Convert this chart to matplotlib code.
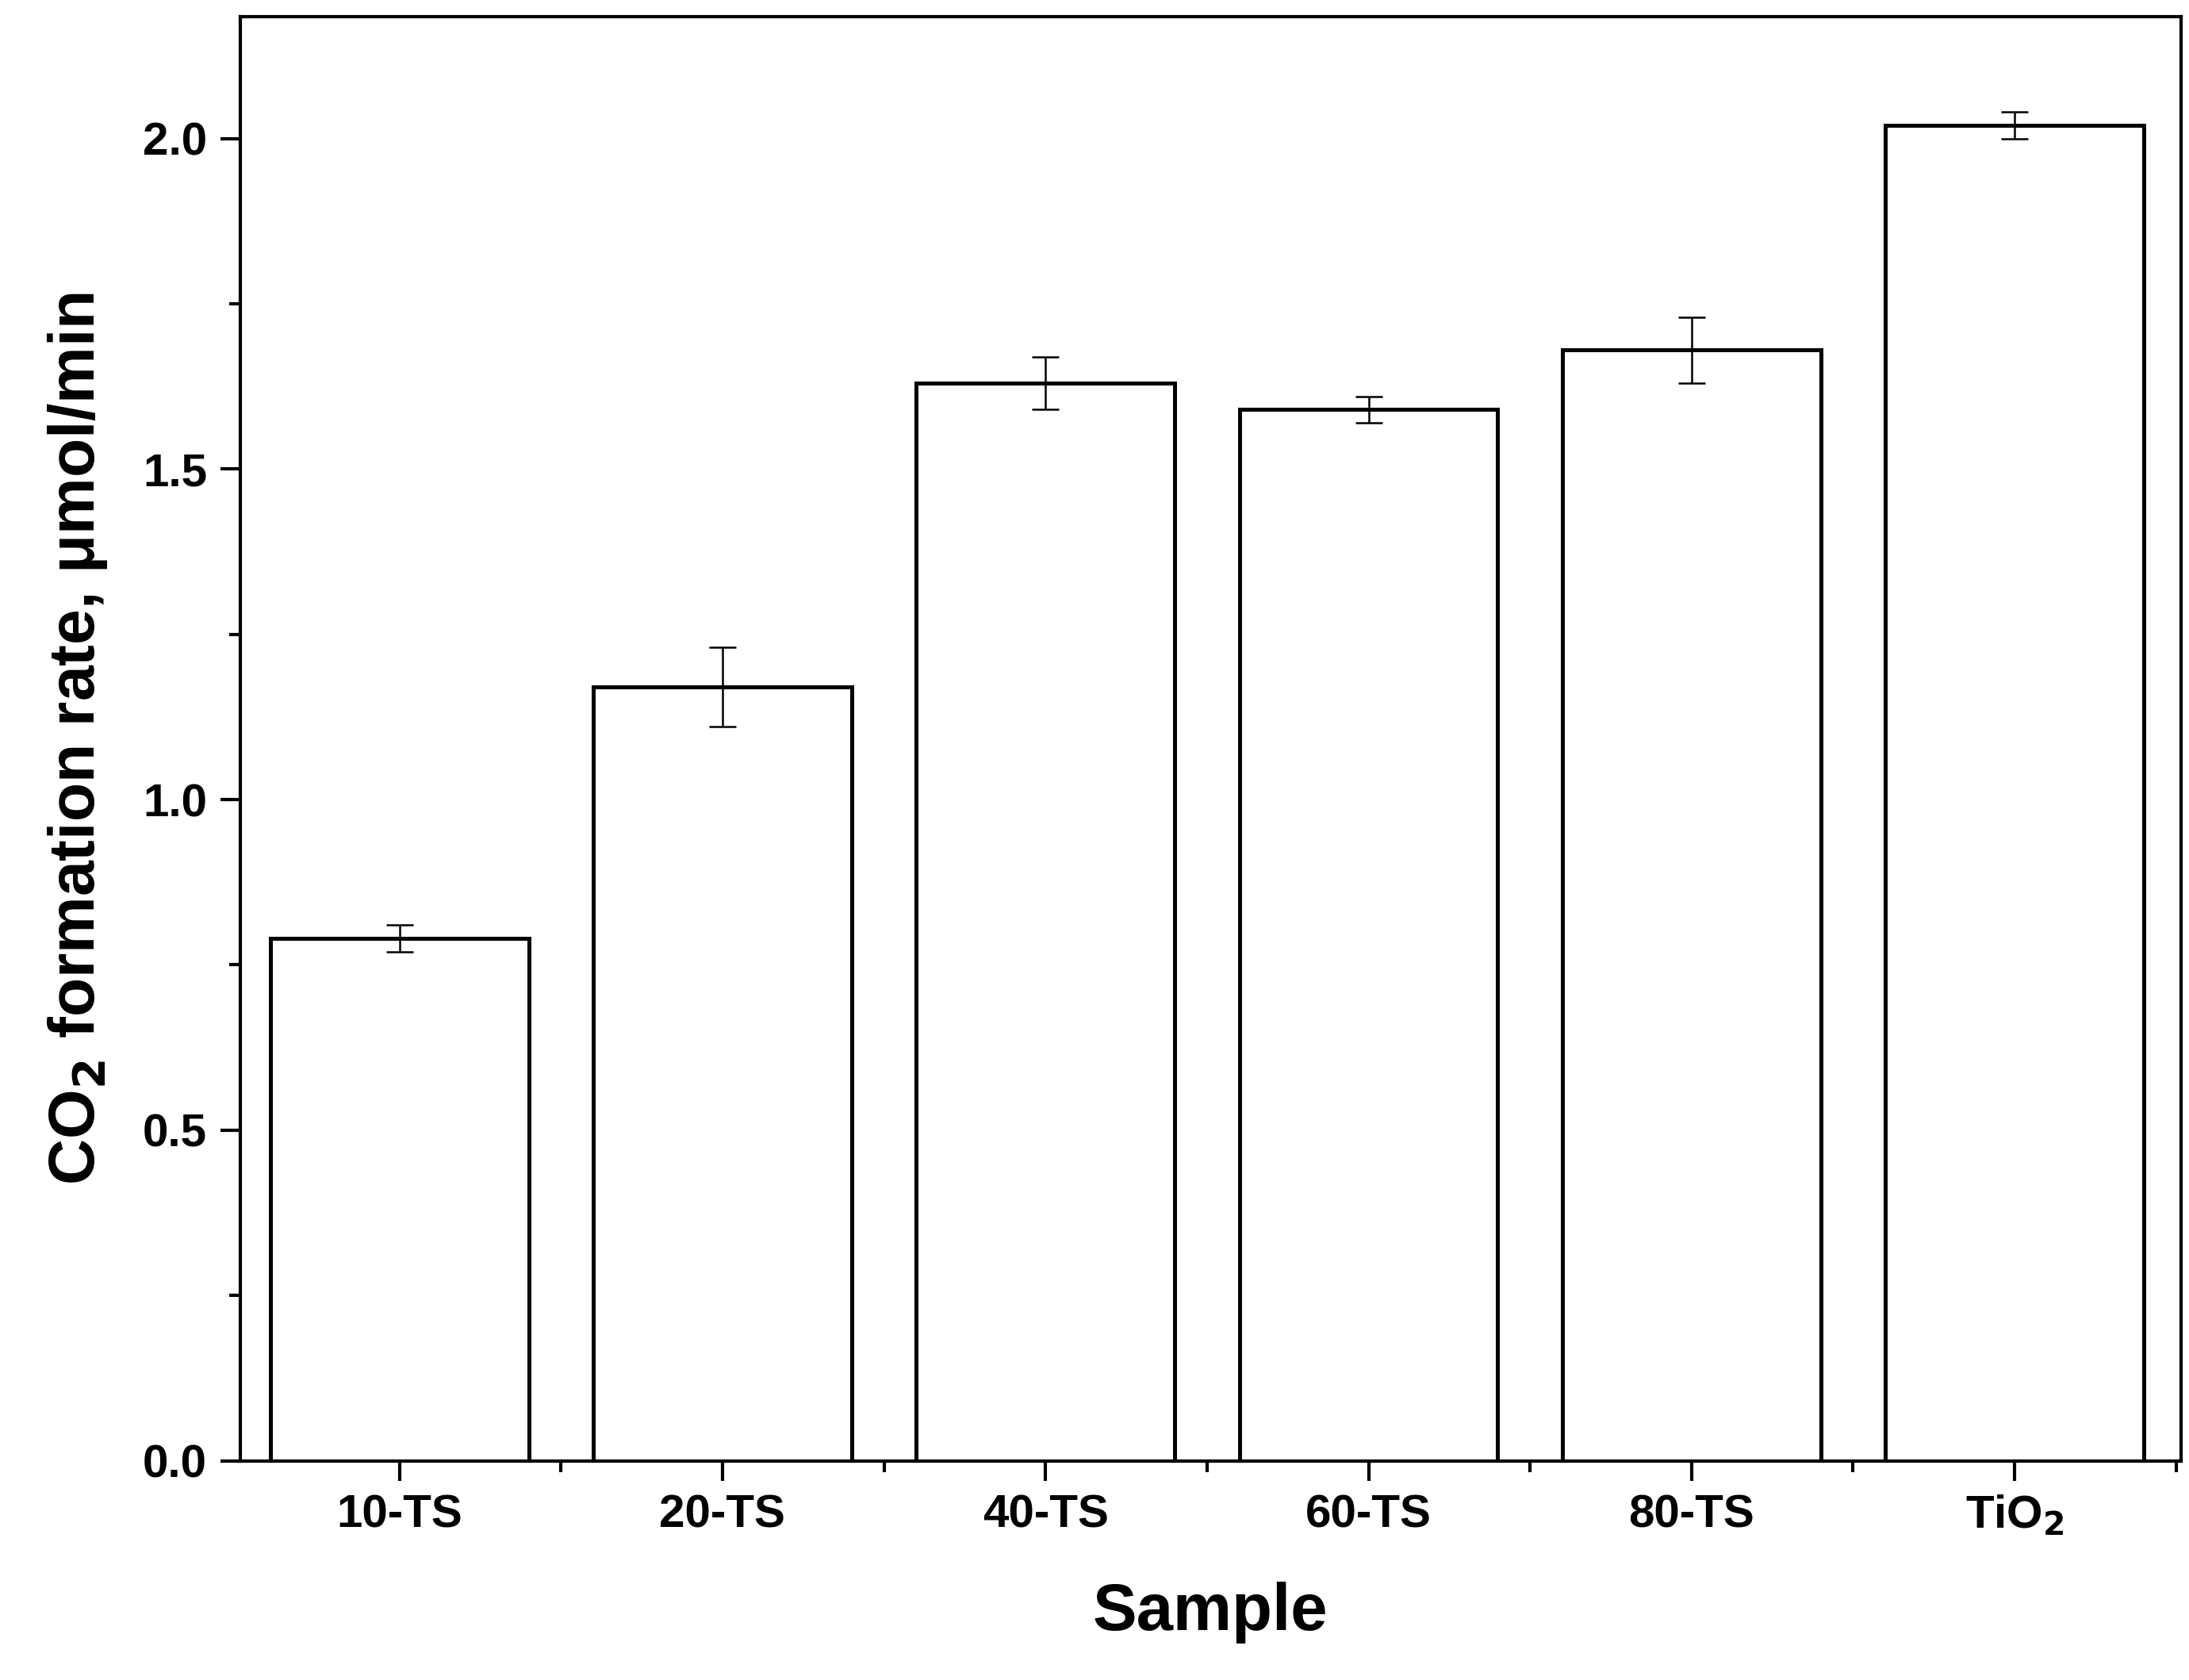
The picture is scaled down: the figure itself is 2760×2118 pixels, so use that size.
import matplotlib
matplotlib.use("Agg")
import matplotlib.pyplot as plt
import numpy as np
from matplotlib.ticker import MultipleLocator

samples = ["10-TS", "20-TS", "40-TS", "60-TS", "80-TS", "TiO$_2$"]
rates = [0.79, 1.17, 1.63, 1.59, 1.68, 2.02]
errors = [0.02, 0.06, 0.04, 0.02, 0.05, 0.02]

plt.rcParams['font.family'] = ['Liberation Sans', 'DejaVu Sans']
plt.rcParams['font.weight'] = 'bold'
plt.rcParams['mathtext.default'] = 'bf'

fig = plt.figure(figsize=(27.6, 21.18), dpi=100)
ax = fig.add_axes([0.1097, 0.1305, 0.8865, 0.8595])

x = np.arange(len(samples))
ax.bar(x, rates, width=0.8, color='white', edgecolor='black', linewidth=3.6)
ax.errorbar(x, rates, yerr=errors, fmt='none', ecolor='black',
            elinewidth=1.8, capsize=12, capthick=1.8)

ax.set_xlim(-0.493, 5.514)
ax.set_ylim(0, 2.184)
ax.set_xticks(x)
ax.set_xticklabels(samples)
ax.xaxis.set_minor_locator(MultipleLocator(0.5))
ax.yaxis.set_major_locator(MultipleLocator(0.5))
ax.yaxis.set_minor_locator(MultipleLocator(0.25))
ax.yaxis.set_major_formatter(matplotlib.ticker.FormatStrFormatter('%.1f'))

ax.tick_params(which='major', direction='out', length=18, width=3, labelsize=42, pad=12)
ax.tick_params(which='minor', direction='out', length=10, width=3)
for s in ax.spines.values():
    s.set_linewidth(3)

ax.set_xlabel("Sample", fontsize=60, fontweight='bold', labelpad=40)
ax.set_ylabel("CO$_2$ formation rate, μmol/min", fontsize=58, fontweight='bold', labelpad=30)

fig.savefig("out.png", dpi=100)
